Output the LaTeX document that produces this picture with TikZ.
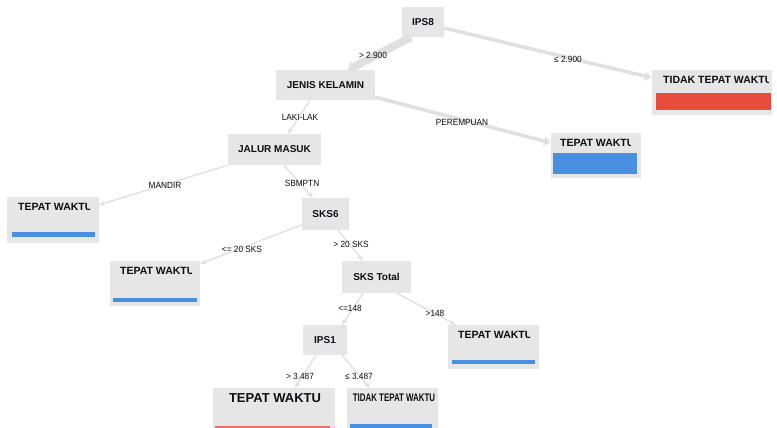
\documentclass[tikz,border=0pt]{standalone}
\usepackage{fontspec}
\usepackage{graphicx}
\setmainfont{Liberation Sans}
\usetikzlibrary{arrows.meta}

\definecolor{boxgray}{RGB}{230,230,230}
\definecolor{edgegray}{RGB}{224,224,224}
\definecolor{inkdark}{RGB}{14,14,20}
\definecolor{barred}{RGB}{231,76,60}
\definecolor{barblue}{RGB}{74,144,226}
\definecolor{barsalmon}{RGB}{229,112,100}

\begin{document}
\begin{tikzpicture}[x=1pt,y=-1pt,
  split/.style={fill=boxgray, inner sep=0pt, text=inkdark,
    font=\bfseries\fontsize{10}{12}\selectfont},
  leafbox/.style={fill=boxgray, inner sep=0pt},
  leaftext/.style={anchor=west, inner sep=0pt, text=inkdark,
    font=\bfseries\fontsize{10.5}{12}\selectfont},
  edge/.style={draw=edgegray, line width=1.3pt, -{Stealth[length=6pt,width=5pt]}},
  heavyedge/.style={draw=edgegray, line width=3.5pt, -{Triangle[length=7pt,width=9pt]}},
  mainedge/.style={draw=edgegray, line width=8pt, -{Triangle[length=6pt,width=13pt]}},
  elabel/.style={font=\fontsize{9}{10}\selectfont, text=inkdark, inner sep=0pt}
]
\useasboundingbox[fill=white] (0,0) rectangle (777,428);

% ---- split nodes ----
\node[split, minimum width=42pt, minimum height=30pt] (ips8)     at (423,22)    {IPS8};
\node[split, minimum width=99pt, minimum height=30pt] (jenis)    at (325.5,85)  {JENIS KELAMIN};
\node[split, minimum width=93pt, minimum height=31pt] (jalur)    at (274.5,149.5) {JALUR MASUK};
\node[split, minimum width=47pt, minimum height=32pt] (sks6)     at (325.5,214) {SKS6};
\node[split, minimum width=69pt, minimum height=32pt] (skstotal) at (376.5,277) {SKS Total};
\node[split, minimum width=44pt, minimum height=30pt] (ips1)     at (325,340)   {IPS1};

% ---- leaf boxes ----
\node[leafbox, minimum width=120pt, minimum height=45pt] (tidakA) at (712,92.5) {};
\fill[barred] (656,93) rectangle (771,110);
\begin{scope}
  \clip (tidakA.north west) rectangle (768.5,115);
  \node[leaftext] at (663,80) {TIDAK TEPAT WAKTU};
\end{scope}

\node[leafbox, minimum width=90pt, minimum height=45pt] (perem) at (596,155.5) {};
\fill[barblue] (553,153) rectangle (637,174);
\begin{scope}
  \clip (perem.north west) rectangle (630.5,178);
  \node[leaftext] at (560,143) {TEPAT WAKTU};
\end{scope}

\node[leafbox, minimum width=92pt, minimum height=46pt] (mandir) at (53,220) {};
\fill[barblue] (12,232) rectangle (95,237);
\begin{scope}
  \clip (mandir.north west) rectangle (89,243);
  \node[leaftext] at (18,207) {TEPAT WAKTU};
\end{scope}

\node[leafbox, minimum width=90pt, minimum height=45pt] (lesks) at (155,283.5) {};
\fill[barblue] (113,297.5) rectangle (197,301.5);
\begin{scope}
  \clip (lesks.north west) rectangle (191,306);
  \node[leaftext] at (120,271) {TEPAT WAKTU};
\end{scope}

\node[leafbox, minimum width=91pt, minimum height=44pt] (gtotal) at (493.5,347) {};
\fill[barblue] (452,360) rectangle (535,364);
\begin{scope}
  \clip (gtotal.north west) rectangle (529,369);
  \node[leaftext] at (458,335) {TEPAT WAKTU};
\end{scope}

\node[leafbox, minimum width=122pt, minimum height=42pt] (gtips) at (274,409) {};
\fill[barsalmon] (215,425.5) rectangle (330,430);
\node[inner sep=0pt, text=inkdark, font=\bfseries\fontsize{13}{15}\selectfont]
  at (275,398.5) {TEPAT WAKTU};

\node[leafbox, minimum width=91pt, minimum height=42pt] (leips) at (392.5,409) {};
\fill[barblue] (350,423.5) rectangle (432,430);
\node[inner sep=0pt, text=inkdark, font=\bfseries\fontsize{11}{13}\selectfont]
  at (394,398) {\scalebox{0.72}[1]{TIDAK TEPAT WAKTU}};

% ---- connectors ----
\draw[mainedge]  ([xshift=-12pt]ips8.south)      -- ([xshift=22.5pt]jenis.north);
\draw[heavyedge] ([yshift=-6pt]ips8.east)        -- ([yshift=-8pt]tidakA.north west);
\draw[heavyedge] ([yshift=3pt]jenis.south east)  -- ([yshift=-10pt]perem.north west);
\draw[edge] ([xshift=-15.5pt]jenis.south)        -- ([xshift=13.5pt]jalur.north);
\draw[edge] (jalur.south west)                   -- ([yshift=-8pt]mandir.north east);
\draw[edge] ([xshift=9.5pt]jalur.south)          -- ([xshift=-12.5pt]sks6.north);
\draw[edge] ([yshift=-27pt]sks6.north west)      -- ([yshift=-3pt]lesks.north east);
\draw[edge] ([xshift=12.5pt]sks6.south)          -- ([xshift=-13.5pt]skstotal.north);
\draw[edge] ([xshift=-13.5pt]skstotal.south)     -- ([xshift=17pt]ips1.north);
\draw[edge] ([xshift=20.5pt]skstotal.south)      -- ([xshift=8pt]gtotal.north west);
\draw[edge] ([xshift=-9pt]ips1.south)            -- ([xshift=21pt]gtips.north);
\draw[edge] ([xshift=17pt]ips1.south)            -- ([xshift=23pt]leips.north west);

% ---- branch labels ----
\node[elabel] (l1)  at (373,55)  {\scalebox{0.92}[1]{> 2.900}};
\node[elabel] (l2)  at (568,59)  {\scalebox{0.92}[1]{≤ 2.900}};
\node[elabel] (l3)  at (300,117) {\scalebox{0.92}[1]{LAKI-LAK}};
\node[elabel] (l4)  at (462,122) {\scalebox{0.92}[1]{PEREMPUAN}};
\node[elabel] (l5)  at (165,185) {\scalebox{0.92}[1]{MANDIR}};
\node[elabel] (l6)  at (302,183) {\scalebox{0.92}[1]{SBMPTN}};
\node[elabel] (l7)  at (242,249) {\scalebox{0.92}[1]{<= 20 SKS}};
\node[elabel] (l8)  at (351,244) {\scalebox{0.92}[1]{> 20 SKS}};
\node[elabel] (l9)  at (350,308) {\scalebox{0.92}[1]{<=148}};
\node[elabel] (l10) at (435,313) {\scalebox{0.92}[1]{>148}};
\node[elabel] (l11) at (300,376) {\scalebox{0.92}[1]{> 3.487}};
\node[elabel] (l12) at (359,376) {\scalebox{0.92}[1]{≤ 3.487}};
\end{tikzpicture}
\end{document}
